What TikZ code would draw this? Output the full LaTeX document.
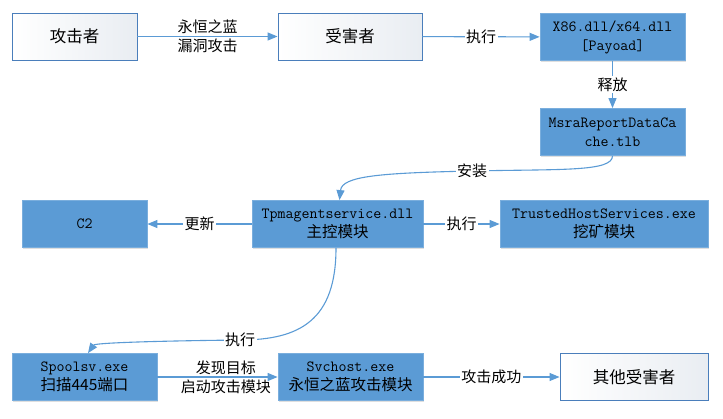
\documentclass[tikz,border=0pt]{standalone}
\usepackage{fontspec}
\newfontfamily\cjk{Noto Sans CJK SC}
\usetikzlibrary{arrows.meta,shadows}
\definecolor{lineblue}{HTML}{5B9BD5}
\definecolor{boxblue}{HTML}{5B9BD5}
\definecolor{boxblueedge}{HTML}{7AAEDD}
\definecolor{whiteedge}{HTML}{4A7EBB}
\definecolor{whitegrad}{HTML}{E9EDF2}
\tikzset{
  boxbase/.style={rectangle, minimum height=47pt, align=center, inner sep=0pt,
    text=black, font=\fontsize{15.5}{19}\selectfont},
  bluebox/.style={boxbase, fill=boxblue, draw=boxblueedge, line width=0.8pt,
    drop shadow={shadow xshift=1.2pt, shadow yshift=-1.2pt, opacity=0.25, fill=gray}},
  whitebox/.style={boxbase, draw=whiteedge, line width=0.9pt, left color=white, right color=whitegrad},
  conn/.style={draw=lineblue, line width=1.1pt, -{Triangle[length=10pt,width=8pt]}},
  lab/.style={font=\cjk\fontsize{15}{19}\selectfont, fill=white, inner sep=1.5pt, text=black, align=center},
  labtwo/.style={font=\cjk\fontsize{15}{19}\selectfont, inner sep=0pt, text=black, align=center}
}
\begin{document}
\begin{tikzpicture}[x=1pt,y=-1pt]
\useasboundingbox (0,0) rectangle (723,418);
% row 1
\node[whitebox, minimum width=125pt] (att) at (74.5,36.5) {\cjk\fontsize{16.5}{19}\selectfont 攻击者};
\node[whitebox, minimum width=144pt] (vic) at (350,36.5) {\cjk\fontsize{16.5}{19}\selectfont 受害者};
\node[bluebox, minimum width=145pt] (x86) at (612.5,37) {\ttfamily X86.dll/x64.dll\\\ttfamily [Payoad]};
\node[bluebox, minimum width=145pt] (msra) at (612.5,132) {\ttfamily MsraReportDataCa\\\ttfamily che.tlb};
% row 2
\node[bluebox, minimum width=125pt] (c2) at (84.5,224) {\ttfamily C2};
\node[bluebox, minimum width=171pt] (tpm) at (337.5,224) {\ttfamily Tpmagentservice.dll\\\cjk 主控模块};
\node[bluebox, minimum width=208pt] (trust) at (604,224) {\ttfamily TrustedHostServices.exe\\\cjk 挖矿模块};
% row 3
\node[bluebox, minimum width=145pt] (spool) at (84.5,377) {\ttfamily Spoolsv.exe\\\cjk 扫描445端口};
\node[bluebox, minimum width=145pt] (svc) at (350.5,377) {\ttfamily Svchost.exe\\\cjk 永恒之蓝攻击模块};
\node[whitebox, minimum width=148pt] (oth) at (634,377) {\cjk\fontsize{16.5}{19}\selectfont 其他受害者};
% connectors
\draw[conn] (att) -- node[labtwo] {永恒之蓝\\漏洞攻击} (vic);
\draw[conn] (vic) -- node[lab] {执行} (x86);
\draw[conn] (x86) -- node[lab] {释放} (msra);
\draw[conn] (msra.south) .. controls (612.5,172) and (560,169) .. (472,171)
  node[lab] {安装}
  .. controls (380,173) and (342,176) .. ([xshift=2pt]tpm.north);
\draw[conn] (tpm) -- node[lab] {更新} (c2);
\draw[conn] (tpm) -- node[lab] {执行} (trust);
\draw[conn] ([xshift=-1.5pt]tpm.south) .. controls (336,320) and (300,340) .. (240,340)
  node[lab] {执行}
  .. controls (150,341) and (95,343) .. ([xshift=3.5pt]spool.north);
\draw[conn] (spool) -- node[labtwo, pos=0.57] {发现目标\\启动攻击模块} (svc);
\draw[conn] (svc) -- node[lab] {攻击成功} (oth);
\end{tikzpicture}
\end{document}
